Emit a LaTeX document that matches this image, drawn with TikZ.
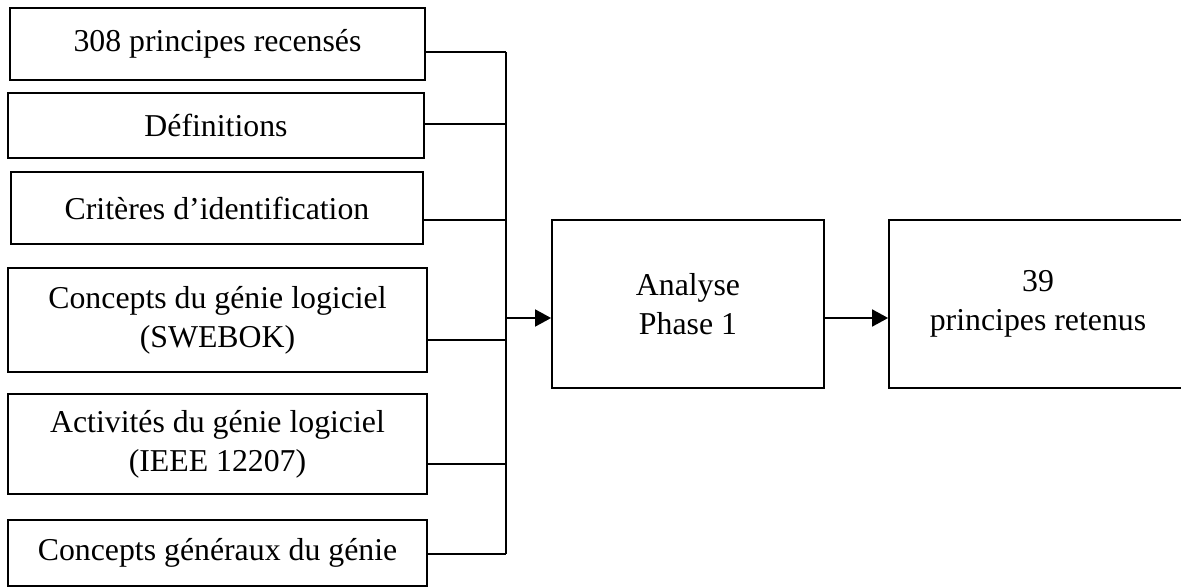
\documentclass[tikz,border=0pt]{standalone}
\usepackage{fontspec}
\setmainfont{Liberation Serif}
\usetikzlibrary{calc,arrows.meta}
\tikzset{sbox/.style={draw,line width=0.9pt,inner sep=0pt,align=center,font=\fontsize{15.9}{19.5}\selectfont}}
\tikzset{link/.style={draw,line width=0.9pt}}
\tikzset{flow/.style={draw,line width=0.9pt,-{Triangle[length=8pt,width=8.5pt]}}}

\begin{document}
\begin{tikzpicture}[x=0.5pt,y=-0.5pt]
    \useasboundingbox (0,0) rectangle (1181,587);

    % inputs
    \node[sbox,minimum width=207.5pt,minimum height=36pt] (src1) at (217.5,44) {308 principes recensés};
    \node[sbox,minimum width=208pt,minimum height=32.5pt] (src2) at (216,125.5) {Définitions};
    \node[sbox,minimum width=206pt,minimum height=36pt] (src3) at (217,208) {Critères d’identification};
    \node[sbox,minimum width=209.5pt,minimum height=52pt] (src4) at (217.5,320) {Concepts du génie logiciel\\(SWEBOK)};
    \node[sbox,minimum width=209.5pt,minimum height=50pt] (src5) at (217.5,444) {Activités du génie logiciel\\(IEEE 12207)};
    \node[sbox,minimum width=209.5pt,minimum height=33pt] (src6) at (217.5,553) {Concepts généraux du génie};

    % analysis and result
    \node[sbox,minimum width=136pt,minimum height=84pt] (ana) at (688,304) {Analyse\\Phase 1};
    \node[sbox,minimum width=149pt,minimum height=84pt] (res) at (1038,304) {39\\principes retenus};

    % collecting bus
    \foreach \n/\y in {1/52,2/124,3/220,4/340,5/464,6/554}{
      \coordinate (bus\n) at (506,\y);
      \draw[link] (src\n.east |- bus\n) -- (bus\n);
    }
    \draw[link] (bus1) -- (bus6);

    \coordinate (busout) at (506,318);
    \draw[flow] (busout) -- (busout -| ana.west);
    \draw[flow] (ana.east |- busout) -- (res.west |- busout);

\end{tikzpicture}
\end{document}
